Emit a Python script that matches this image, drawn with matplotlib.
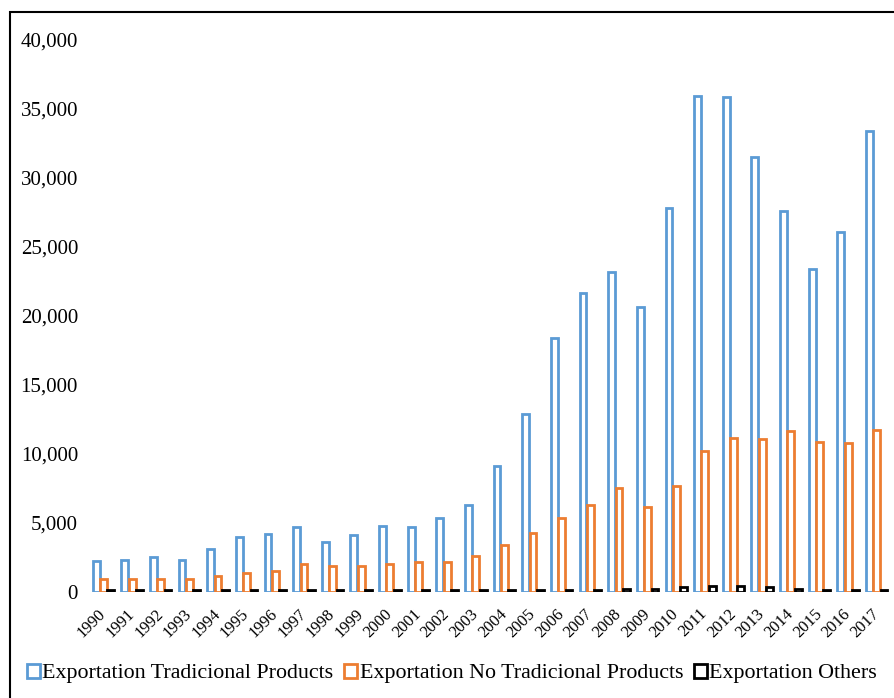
import numpy as np
import matplotlib
matplotlib.use("Agg")
import matplotlib.pyplot as plt
from matplotlib.patches import Rectangle, Patch
from matplotlib.ticker import FuncFormatter

plt.rcParams['font.family'] = ['Liberation Serif', 'DejaVu Serif']

years = [str(y) for y in range(1990, 2018)]
traditional = [2210, 2290, 2540, 2290, 3120, 3970, 4180, 4690, 3650, 4110,
               4760, 4710, 5340, 6300, 9150, 12900, 18430, 21640, 23210, 20680,
               27800, 35920, 35870, 31520, 27630, 23410, 26110, 33430]
no_traditional = [920, 940, 920, 960, 1180, 1400, 1520, 2000, 1910, 1860,
                  2000, 2150, 2200, 2590, 3400, 4300, 5330, 6300, 7550, 6180,
                  7680, 10200, 11190, 11090, 11690, 10880, 10770, 11740]
others = [120, 120, 120, 120, 120, 120, 120, 120, 120, 120,
          120, 120, 120, 120, 130, 130, 150, 170, 250, 180,
          380, 420, 450, 380, 200, 160, 150, 160]

series = ["Exportation Tradicional Products",
          "Exportation No Tradicional Products",
          "Exportation Others"]
colors = ["#5B9BD5", "#ED7D31", "#000000"]

fig = plt.figure(figsize=(8.95, 6.98), dpi=100)
ax = fig.add_axes([0.0996, 0.1519, 0.8960, 0.7908])

x = np.arange(len(years))
w = 0.256
for i, (vals, c) in enumerate(zip([traditional, no_traditional, others], colors)):
    ax.bar(x + (i - 1) * w, vals, width=w * 0.93, facecolor="white",
           edgecolor=c, linewidth=2.0)

ax.set_xlim(-0.5, len(years) - 0.5)
ax.set_ylim(0, 40000)
ax.set_yticks(np.arange(0, 40001, 5000))
ax.yaxis.set_major_formatter(FuncFormatter(lambda v, p: f"{int(v):,}"))
ax.set_xticks(x)
ax.set_xticklabels(years, rotation=45, ha="right", va="center",
                   rotation_mode="anchor", fontsize=12)
ax.tick_params(axis="y", length=0, pad=8, labelsize=15)
ax.tick_params(axis="x", length=0, pad=14)
for s in ax.spines.values():
    s.set_visible(False)

handles = [Patch(facecolor="white", edgecolor=c, linewidth=2.0) for c in colors]
fig.legend(handles, series, loc="center", bbox_to_anchor=(0.505, 0.035), ncol=3,
           frameon=False, fontsize=15.8, handlelength=0.6, handleheight=0.6,
           handletextpad=0.1, columnspacing=0.5)

fig.patches.append(Rectangle((10 / 895, -0.1), 1.2, 1.1 - 12 / 698,
                             transform=fig.transFigure, fill=False,
                             edgecolor="black", linewidth=1.5))

fig.savefig("out.png", dpi=100)
